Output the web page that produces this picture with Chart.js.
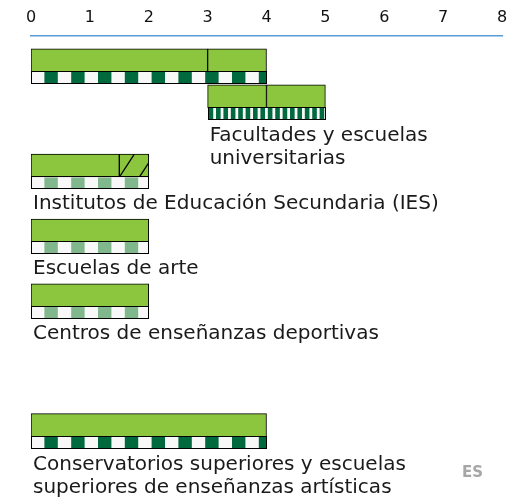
<!DOCTYPE html>
<html>
<head>
<meta charset="utf-8">
<script src="https://cdn.jsdelivr.net/npm/chart.js@4.4.1/dist/chart.umd.min.js"></script>
<style>
  body { margin: 0; background: #fff; }
</style>
</head>
<body>
<canvas id="chart" width="524" height="498"></canvas>
<script>
// years along the top
const yearTicks = [0, 1, 2, 3, 4, 5, 6, 7, 8];

// one entry per row of the diagram
const rowNames = ['Grado', 'Máster', 'IES', 'Escuelas de arte', 'Centros deportivos', 'Conservatorios'];
const rowText = [
    [],
    ['Facultades y escuelas', 'universitarias'],
    ['Institutos de Educación Secundaria (IES)'],
    ['Escuelas de arte'],
    ['Centros de enseñanzas deportivas'],
    ['Conservatorios superiores y escuelas', 'superiores de enseñanzas artísticas']
];
// programme segments (start / end year)
const segStart = [[0, 3], [3, 4], [0, 1.5], [0], [0], [0]];
const segEnd   = [[3, 4], [4, 5], [1.5, 2], [2], [2], [4]];
const segHatch = [[0, 0], [0, 0], [0, 1], [0], [0], [0]];
// band under each row: dark squares, fine stripes, light squares
const bandType = ['dark', 'fine', 'light', 'light', 'light', 'dark'];

// layout: vertical slot of every row on the hidden y scale
const rowSlot = [0.75, 1.86, 4, 6, 8, 12];

const GREEN = '#8cc63f';
const DARK = '#00693e';
const LIGHT = '#80b78c';
const FONT = "'DejaVu Sans', Verdana, sans-serif";

const points = [];
rowNames.forEach((name, i) => {
    segStart[i].forEach((s, j) => {
        points.push({ x: [s, segEnd[i][j]], y: rowSlot[i], row: i, hatch: segHatch[i][j] });
    });
});

function drawBand(ctx, left, right, top, type) {
    const h = 12;
    ctx.save();
    ctx.fillStyle = '#f8f8f8';
    ctx.fillRect(left, top, right - left, h);
    ctx.beginPath();
    ctx.rect(left, top, right - left, h);
    ctx.clip();
    if (type === 'fine') {
        ctx.fillStyle = DARK;
        for (let px = left + 1; px < right; px += 7.4) {
            ctx.fillRect(px, top, 4.6, h);
        }
    } else {
        ctx.fillStyle = type === 'dark' ? DARK : LIGHT;
        for (let px = left + 13.4; px < right; px += 26.8) {
            ctx.fillRect(px, top, 13.4, h);
        }
    }
    ctx.restore();
    ctx.save();
    ctx.strokeStyle = '#000';
    ctx.lineWidth = 1;
    ctx.strokeRect(Math.round(left) + 0.5, Math.round(top) - 0.5, Math.round(right - left) - 1, h);
    ctx.restore();
}

const diagramPlugin = {
    id: 'diagram',
    afterDatasetsDraw(chart) {
        const ctx = chart.ctx;
        const meta = chart.getDatasetMeta(0);
        rowNames.forEach((name, i) => {
            const bars = meta.data
                .map((el, k) => ({ el: el.getProps(['x', 'y', 'base', 'height'], true), p: points[k] }))
                .filter(b => b.p.row === i);
            const left = Math.min(...bars.map(b => Math.min(b.el.x, b.el.base)));
            const right = Math.max(...bars.map(b => Math.max(b.el.x, b.el.base)));
            const bottom = bars[0].el.y + bars[0].el.height / 2;

            // hatched segments
            bars.filter(b => b.p.hatch).forEach(b => {
                const x0 = Math.min(b.el.x, b.el.base), x1 = Math.max(b.el.x, b.el.base);
                const top = b.el.y - b.el.height / 2;
                ctx.save();
                ctx.beginPath();
                ctx.rect(x0, top, x1 - x0, b.el.height);
                ctx.clip();
                ctx.strokeStyle = '#000';
                ctx.lineWidth = 1.3;
                for (let px = x0; px < x1; px += 20) {
                    ctx.beginPath();
                    ctx.moveTo(px, bottom);
                    ctx.lineTo(px + 15, top);
                    ctx.stroke();
                }
                ctx.restore();
            });

            drawBand(ctx, left, right, bottom, bandType[i]);

            // row label under the band
            const lines = rowText[i];
            ctx.save();
            ctx.fillStyle = '#1a1a1a';
            ctx.font = '20px ' + FONT;
            ctx.textBaseline = 'alphabetic';
            const first = bottom + 12 + 20 + (lines.length > 1 ? 1 : 0);
            lines.forEach((t, n) => ctx.fillText(t, left + 2, first + n * 23));
            ctx.restore();
        });
    },
    afterDraw(chart) {
        const ctx = chart.ctx;
        ctx.save();
        ctx.fillStyle = '#a6a6a6';
        ctx.font = 'bold 15px ' + FONT;
        ctx.fillText('ES', 462, 477);
        ctx.restore();
    }
};

const ctx = document.getElementById('chart').getContext('2d');

new Chart(ctx, {
    type: 'bar',
    data: {
        datasets: [{
            label: 'Programas',
            data: points,
            backgroundColor: GREEN,
            borderColor: '#000',
            borderWidth: 1,
            borderSkipped: false,
            barThickness: 23,
            grouped: false
        }]
    },
    options: {
        indexAxis: 'y',
        responsive: false,
        animation: false,
        layout: { padding: { top: 0, left: 31, right: 22, bottom: 0 } },
        plugins: {
            legend: { display: false },
            tooltip: { enabled: false }
        },
        scales: {
            x: {
                type: 'linear',
                position: 'top',
                min: yearTicks[0],
                max: yearTicks[yearTicks.length - 1],
                afterBuildTicks: axis => { axis.ticks = yearTicks.map(v => ({ value: v })); },
                grid: { display: false, drawTicks: false },
                border: { display: true, color: '#5b9bd5', width: 1.5 },
                ticks: {
                    color: '#111',
                    padding: 10,
                    font: { family: FONT, size: 16, lineHeight: 1 }
                }
            },
            y: {
                type: 'linear',
                min: 0,
                max: 14.25,
                reverse: true,
                offset: false,
                display: false
            }
        }
    },
    plugins: [diagramPlugin]
});
</script>
</body>
</html>
